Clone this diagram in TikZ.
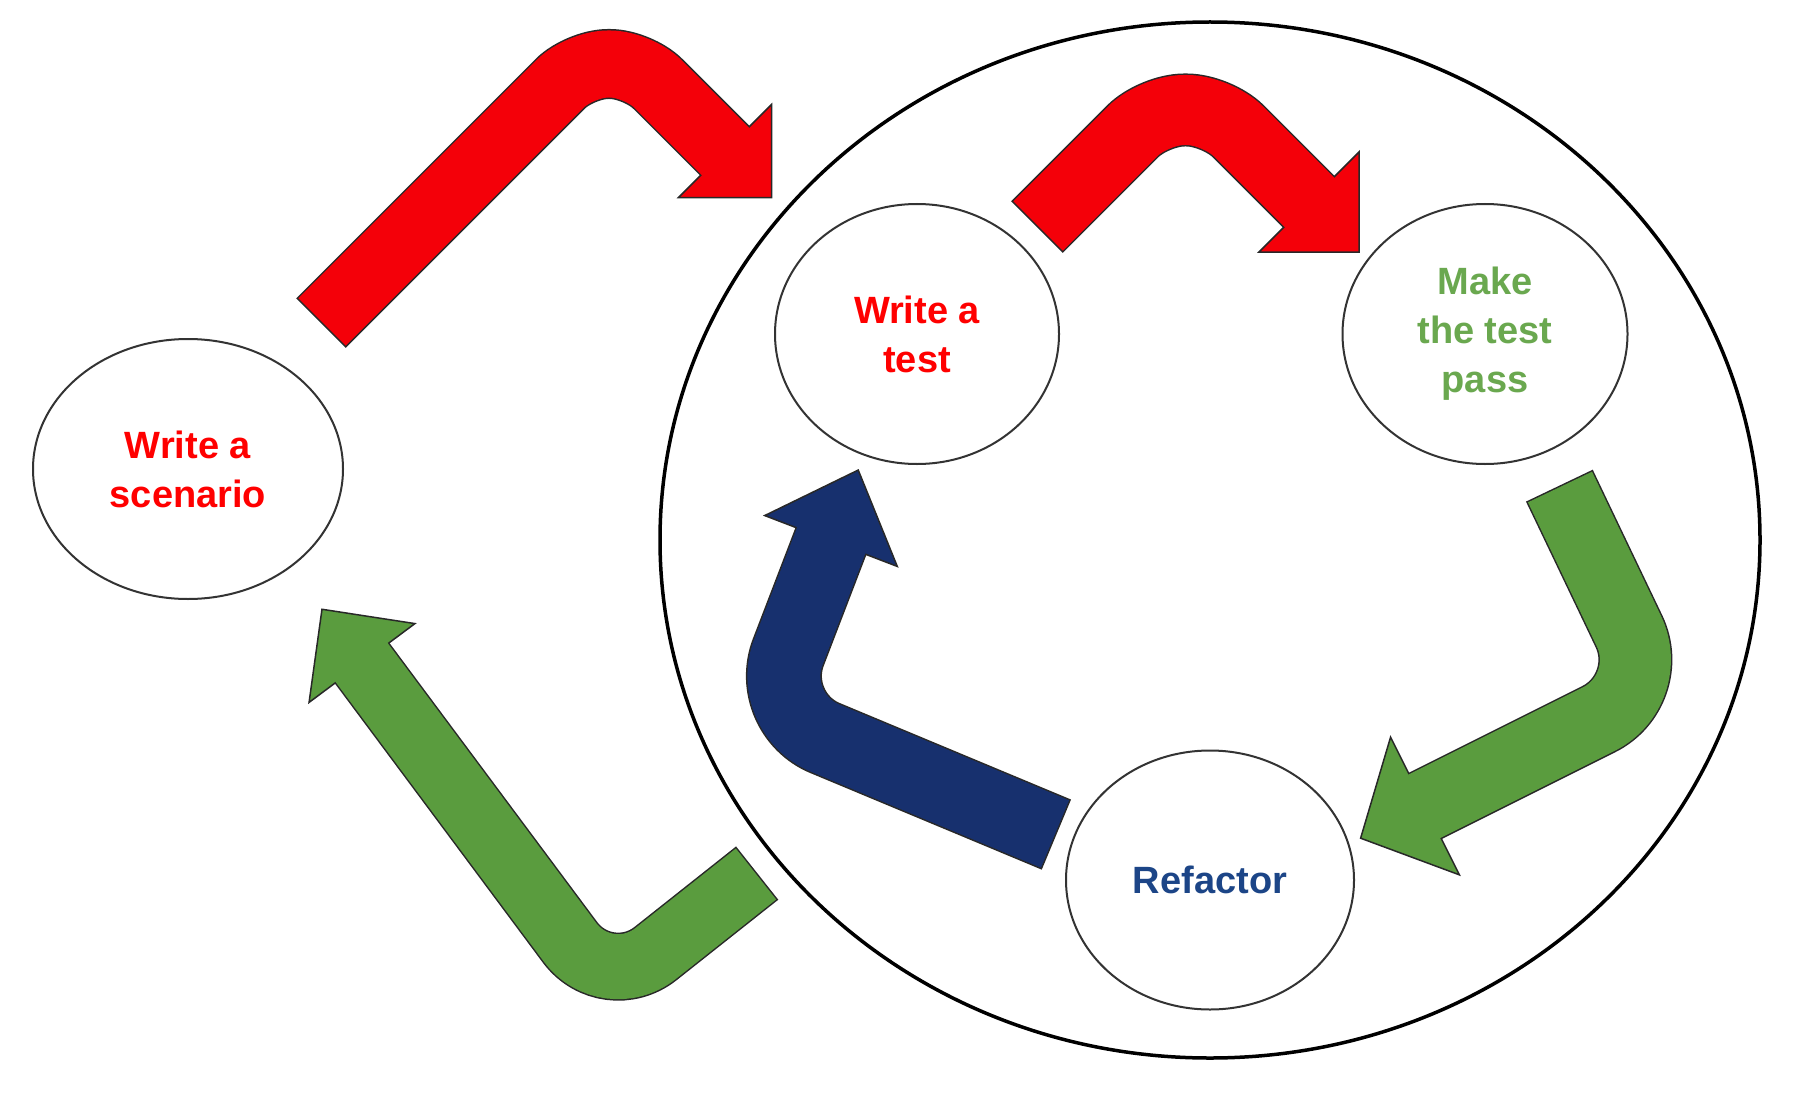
\documentclass[tikz,border=0pt]{standalone}
\usepackage{fontspec}
\setmainfont{Liberation Sans}
\usetikzlibrary{shapes.geometric,calc}
\definecolor{redA}{RGB}{244,0,9}
\definecolor{redT}{RGB}{255,0,0}
\definecolor{greenA}{RGB}{90,156,62}
\definecolor{greenT}{RGB}{106,168,79}
\definecolor{blueA}{RGB}{23,48,110}
\definecolor{blueT}{RGB}{28,69,135}
\definecolor{outl}{RGB}{40,40,40}
\tikzset{
  bubble/.style={ellipse, draw=black!80, line width=2pt, fill=white, inner sep=0pt,
    align=center, font=\bfseries\fontsize{38}{49}\selectfont},
  shaftout/.style={draw=outl, line cap=butt},
  headshape/.style={draw=outl, line width=1.5pt, line join=miter},
}
\begin{document}
\begin{tikzpicture}[x=1pt,y=-1pt]
\useasboundingbox (0,0) rectangle (1804,1094);

% big circle
\node[ellipse, draw=black, line width=3.5pt, minimum width=1100pt, minimum height=1036pt, inner sep=0pt] (big) at (1210,540) {};

% ---------- red arrow 1 (scenario -> cycle)
\coordinate (r1t) at (322,322);
\coordinate (r1a) at (580,64);
\coordinate (r1b) at (638,64);
\coordinate (r1h) at (725,151);
\draw[shaftout, line width=70pt, rounded corners=28pt] ($(r1t)!-1.5pt!(r1a)$) -- (r1a) -- (r1b) -- (r1h);
\filldraw[headshape, fill=redA] ($(r1h)!66pt!90:(r1b)$) -- ($(r1h)!-66pt!(r1b)$) -- ($(r1h)!66pt!-90:(r1b)$) -- cycle;
\draw[line width=67pt, redA, rounded corners=28pt] (r1t) -- (r1a) -- (r1b) -- ($(r1h)!-4pt!(r1b)$);

% ---------- red arrow 2 (write test -> make pass)
\coordinate (r2t) at (1038,226);
\coordinate (r2a) at (1154,110);
\coordinate (r2b) at (1217,110);
\coordinate (r2h) at (1309,202);
\draw[shaftout, line width=73pt, rounded corners=30pt] ($(r2t)!-1.5pt!(r2a)$) -- (r2a) -- (r2b) -- (r2h);
\filldraw[headshape, fill=redA] ($(r2h)!71pt!90:(r2b)$) -- ($(r2h)!-71pt!(r2b)$) -- ($(r2h)!71pt!-90:(r2b)$) -- cycle;
\draw[line width=70pt, redA, rounded corners=30pt] (r2t) -- (r2a) -- (r2b) -- ($(r2h)!-4pt!(r2b)$);

% ---------- green arrow right (make pass -> refactor)
\coordinate (g1t) at (1560,487);
\coordinate (g1c) at (1657,690);
\coordinate (g1h) at (1425,806);
\draw[shaftout, line width=74pt, rounded corners=65pt] ($(g1t)!-1.5pt!(g1c)$) -- (g1c) -- (g1h);
\filldraw[headshape, fill=greenA] ($(g1h)!77pt!90:(g1c)$) -- ($(g1h)!-72pt!(g1c)$) -- ($(g1h)!77pt!-90:(g1c)$) -- cycle;
\draw[line width=71pt, greenA, rounded corners=65pt] (g1t) -- (g1c) -- ($(g1h)!-4pt!(g1c)$);

% ---------- blue arrow (refactor -> write test)
\coordinate (b1t) at (1055,834);
\coordinate (b1c) at (765,713);
\coordinate (b1h) at (831,541);
\draw[shaftout, line width=76pt, rounded corners=65pt] ($(b1t)!-1.5pt!(b1c)$) -- (b1c) -- (b1h);
\filldraw[headshape, fill=blueA] ($(b1h)!71pt!90:(b1c)$) -- ($(b1h)!-76pt!(b1c)$) -- ($(b1h)!71pt!-90:(b1c)$) -- cycle;
\draw[line width=73pt, blueA, rounded corners=65pt] (b1t) -- (b1c) -- ($(b1h)!-4pt!(b1c)$);

% ---------- green arrow left (cycle -> scenario)
\coordinate (g2t) at (756,874);
\coordinate (g2c) at (607,992);
\coordinate (g2h) at (362,663);
\draw[shaftout, line width=68pt, rounded corners=62pt] ($(g2t)!-1.5pt!(g2c)$) -- (g2c) -- (g2h);
\filldraw[headshape, fill=greenA] ($(g2h)!66pt!90:(g2c)$) -- ($(g2h)!-67pt!(g2c)$) -- ($(g2h)!66pt!-90:(g2c)$) -- cycle;
\draw[line width=65pt, greenA, rounded corners=62pt] (g2t) -- (g2c) -- ($(g2h)!-4pt!(g2c)$);

% ---------- bubbles
\node[bubble, text=redT, minimum width=310pt, minimum height=260pt] (scen) at (188,469) {Write a\\scenario};
\node[bubble, text=redT, minimum width=284pt, minimum height=260pt] (wat) at (917,334) {Write a\\test};
\node[bubble, text=greenT, minimum width=285pt, minimum height=260pt] (mtp) at (1485,334) {Make\\the test\\pass};
\node[bubble, text=blueT, minimum width=288pt, minimum height=259pt] (ref) at (1210,880) {Refactor};
\end{tikzpicture}
\end{document}
